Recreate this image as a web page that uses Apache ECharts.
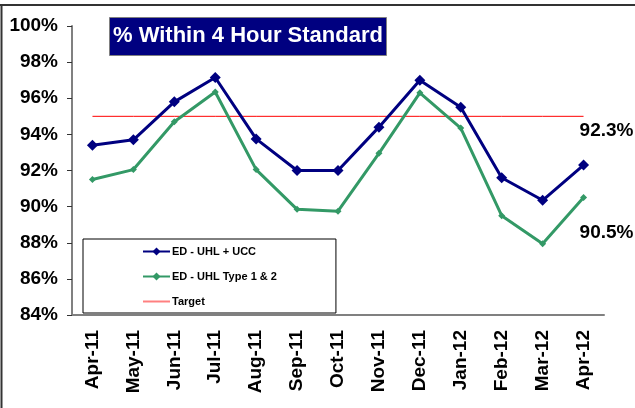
<!DOCTYPE html>
<html>
<head>
<meta charset="utf-8">
<script src="https://cdn.jsdelivr.net/npm/echarts@6/dist/echarts.min.js"></script>
<style>
  html, body { margin: 0; padding: 0; background: #fff; }
  #chart { width: 635px; height: 408px; }
</style>
</head>
<body>
<div id="chart"></div>
<script>
  // months on the x axis
  var months = ['Apr-11', 'May-11', 'Jun-11', 'Jul-11', 'Aug-11', 'Sep-11', 'Oct-11',
    'Nov-11', 'Dec-11', 'Jan-12', 'Feb-12', 'Mar-12', 'Apr-12']
  // % seen within 4 hours
  var uhlUcc = [93.4, 93.7, 95.8, 97.15, 93.75, 92.0, 92.0, 94.4, 97.0, 95.5, 91.6, 90.35, 92.3]
  var uhlType12 = [91.5, 92.05, 94.7, 96.35, 92.05, 89.85, 89.75, 92.95, 96.3, 94.35, 89.5, 87.95, 90.5]
  var target = [95, 95, 95, 95, 95, 95, 95, 95, 95, 95, 95, 95, 95]
  var yTicks = [84, 86, 88, 90, 92, 94, 96, 98, 100]

  var font = 'Arial, "Liberation Sans", sans-serif'
  var last = months.length - 1

  function endLabel (position, offset) {
    return {
      show: true,
      position: position,
      offset: offset,
      fontFamily: font,
      fontWeight: 'bold',
      fontSize: 19,
      color: '#000',
      formatter: function (p) {
        return p.dataIndex === last ? p.value.toFixed(1) + '%' : ''
      },
    }
  }

  var chart = echarts.init(document.getElementById('chart'))
  chart.setOption({
    animation: false,
    title: {
      text: '% Within 4 Hour Standard',
      left: 109,
      top: 17,
      padding: [8, 4, 9, 4],
      backgroundColor: '#000080',
      borderColor: '#808080',
      borderWidth: 1,
      textStyle: {
        color: '#fff',
        fontFamily: font,
        fontWeight: 'bold',
        fontSize: 22,
        lineHeight: 22,
      },
    },
    graphic: [
      { type: 'line', shape: { x1: 0, y1: 5, x2: 635, y2: 5 }, style: { stroke: '#333', lineWidth: 2 } },
      { type: 'line', shape: { x1: 1.5, y1: 5, x2: 1.5, y2: 408 }, style: { stroke: '#333', lineWidth: 2 } },
    ],
    legend: {
      orient: 'vertical',
      left: 83,
      top: 239,
      padding: [7, 59, 6, 59],
      itemGap: 14,
      itemWidth: 27,
      itemHeight: 10,
      borderColor: '#000',
      borderWidth: 1,
      backgroundColor: '#fff',
      textStyle: { fontFamily: font, fontWeight: 'bold', fontSize: 11, color: '#000', padding: [0, 0, 0, -3] },
      data: [
        'ED - UHL + UCC',
        'ED - UHL Type 1 & 2',
        { name: 'Target', itemStyle: { opacity: 0 }, lineStyle: { color: '#ff8080', width: 2 } },
      ],
    },
    grid: { left: 72, top: 26, right: 31, bottom: 93 },
    xAxis: {
      type: 'category',
      data: months,
      boundaryGap: true,
      axisLine: { lineStyle: { color: '#808080', width: 2 } },
      axisTick: { length: 5, lineStyle: { color: '#333', width: 1 } },
      axisLabel: {
        rotate: 90,
        margin: 15,
        interval: 0,
        fontFamily: font,
        fontWeight: 'bold',
        fontSize: 19,
        color: '#000',
      },
    },
    yAxis: {
      type: 'value',
      min: yTicks[0],
      max: yTicks[yTicks.length - 1],
      interval: 2,
      splitLine: { show: false },
      axisLine: { show: true, lineStyle: { color: '#808080', width: 2 } },
      axisTick: { show: true, length: 5, lineStyle: { color: '#333', width: 1 } },
      axisLabel: {
        margin: 14,
        fontFamily: font,
        fontWeight: 'bold',
        fontSize: 19,
        color: '#000',
        formatter: '{value}%',
      },
    },
    series: [
      {
        name: 'ED - UHL + UCC',
        type: 'line',
        data: uhlUcc,
        color: '#000080',
        symbol: 'diamond',
        symbolSize: 11,
        lineStyle: { width: 3 },
        label: endLabel('top', [23, -14]),
        z: 4,
      },
      {
        name: 'ED - UHL Type 1 & 2',
        type: 'line',
        data: uhlType12,
        color: '#339966',
        symbol: 'diamond',
        symbolSize: 7,
        lineStyle: { width: 3 },
        label: endLabel('bottom', [23, 17]),
        z: 3,
      },
      {
        name: 'Target',
        type: 'line',
        data: target,
        color: '#ff0000',
        symbol: 'none',
        lineStyle: { width: 1 },
        z: 2,
      },
    ],
  })
</script>
</body>
</html>
